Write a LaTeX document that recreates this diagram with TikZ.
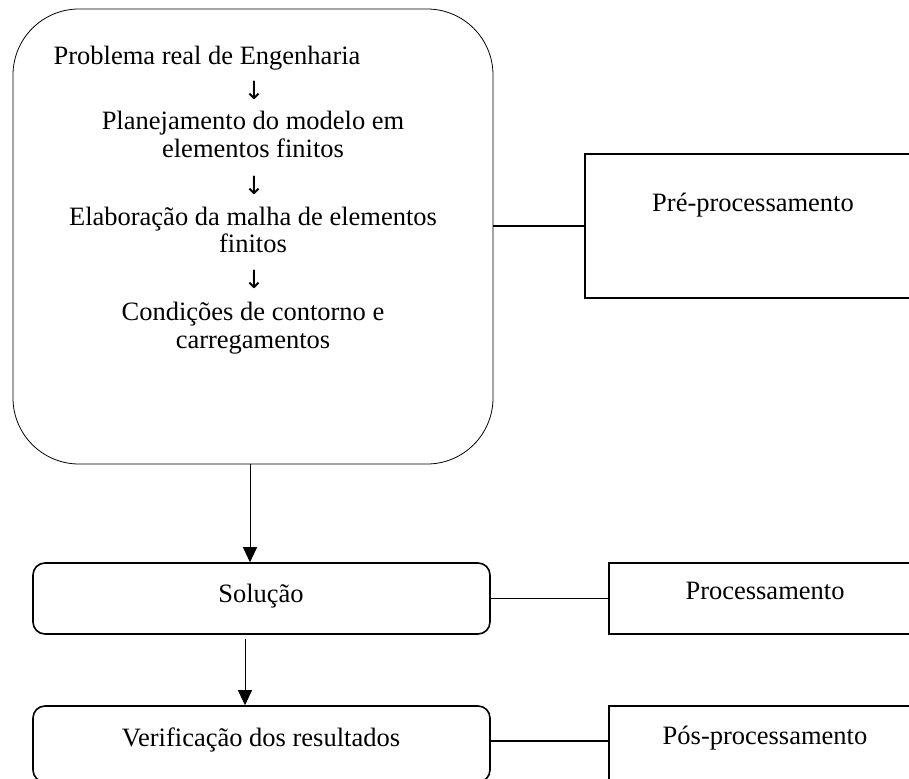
\documentclass[tikz,border=0pt]{standalone}
\usepackage{fontspec}
\setmainfont{Liberation Serif}
\newfontfamily\arrowfont{DejaVu Sans}
\usetikzlibrary{arrows.meta}

\begin{document}
\begin{tikzpicture}[yscale=-1
                ,font=\fontsize{26.5pt}{30pt}\selectfont
                ,pstyle1/.style={draw=black,line width=0.8pt,rounded corners=66pt,inner sep=0pt}
                ,pstyle2/.style={draw=black,line width=1.6pt,rounded corners=12pt,inner sep=0pt,minimum width=457pt}
                ,pstyle3/.style={draw=black,line width=1.6pt,inner sep=0pt,minimum width=330pt}
                ,pstyle4/.style={color=black,line width=1.8pt}
                ,pstyle5/.style={color=black,line width=1.0pt,-{Triangle[width=14pt,length=15pt]}}
                ,pstyle6/.style={color=black,inner sep=0pt,anchor=base}
                ,pstyle7/.style={color=black,inner sep=0pt,font=\arrowfont\fontsize{25pt}{25pt}\selectfont}
            ]
            \useasboundingbox (0pt,0pt) rectangle (909pt,778pt);
            \clip (0pt,0pt) rectangle (909pt,778pt);
            % boxes
            \node[pstyle1,minimum width=480pt,minimum height=455pt] (bigbox) at (253pt,236.5pt) {};
            \node[pstyle3,minimum height=144pt] (prebox) at (750pt,226pt) {};
            \node[pstyle2,minimum height=71pt] (solbox) at (261.5pt,598.5pt) {};
            \node[pstyle3,minimum height=71pt] (procbox) at (774pt,598.5pt) {};
            \node[pstyle2,minimum height=76pt] (verbox) at (261.5pt,744pt) {};
            \node[pstyle3,minimum height=76pt] (posbox) at (774pt,744pt) {};
            % texts
            \node[pstyle6] (t1) at (207pt,65pt) {Problema real de Engenharia};
            \node[pstyle7] (d1) at (254pt,90.5pt) {↓};
            \node[pstyle6] (t2) at (253pt,129.5pt) {Planejamento do modelo em};
            \node[pstyle6] (t3) at (253pt,158pt) {elementos finitos};
            \node[pstyle7] (d2) at (254pt,185pt) {↓};
            \node[pstyle6] (t4) at (253pt,225pt) {Elaboração da malha de elementos};
            \node[pstyle6] (t5) at (253pt,252pt) {finitos};
            \node[pstyle7] (d3) at (254pt,279.5pt) {↓};
            \node[pstyle6] (t6) at (253pt,320pt) {Condições de contorno e};
            \node[pstyle6] (t7) at (253pt,348pt) {carregamentos};
            \node[pstyle6] (t8) at (753pt,211pt) {Pré-processamento};
            \node[pstyle6] (t9) at (261pt,602pt) {Solução};
            \node[pstyle6] (t10) at (765pt,599pt) {Processamento};
            \node[pstyle6] (t11) at (261pt,746pt) {Verificação dos resultados};
            \node[pstyle6] (t12) at (765pt,744pt) {Pós-processamento};
            % connectors
            \coordinate (a1) at (250pt,0pt);
            \coordinate (a2) at (245pt,0pt);
            \draw[pstyle5] (bigbox.south -| a1) -- (solbox.north -| a1);
            \draw[pstyle5,shorten <=4pt] (solbox.south -| a2) -- (verbox.north -| a2);
            \draw[pstyle4] (prebox.west) -- (prebox.west -| bigbox.east);
            \draw[pstyle4] (solbox.east) -- (procbox.west);
            \draw[pstyle4] (verbox.east |- 0pt,741pt) -- (posbox.west |- 0pt,741pt);
        \end{tikzpicture}
\end{document}
